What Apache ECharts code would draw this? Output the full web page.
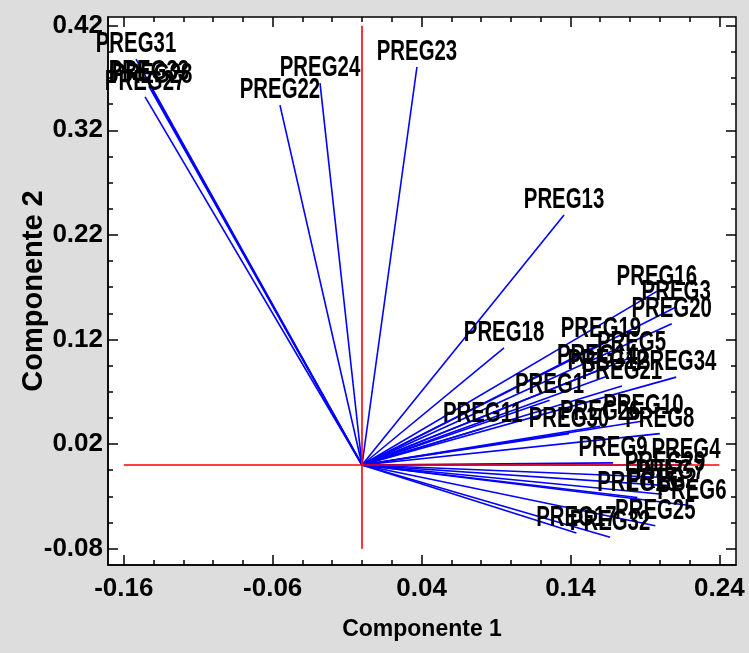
<!DOCTYPE html>
<html>
<head>
<meta charset="utf-8">
<script src="https://cdn.jsdelivr.net/npm/echarts@6/dist/echarts.min.js"></script>
<style>
  html, body { margin: 0; padding: 0; background: #dddddd; }
  #chart { width: 749px; height: 653px; }
</style>
</head>
<body>
<div id="chart"></div>
<script>
// variable names and loadings (component 1, component 2)
const names = [
  'PREG1', 'PREG2', 'PREG3', 'PREG4', 'PREG5', 'PREG6', 'PREG7', 'PREG8', 'PREG9', 'PREG10',
  'PREG11', 'PREG12', 'PREG13', 'PREG14', 'PREG15', 'PREG16', 'PREG17', 'PREG18', 'PREG19', 'PREG20',
  'PREG21', 'PREG22', 'PREG23', 'PREG24', 'PREG25', 'PREG26', 'PREG27', 'PREG28', 'PREG29', 'PREG30',
  'PREG31', 'PREG32', 'PREG33', 'PREG34'
]
const comp1 = [
  0.126, 0.2015, 0.211, 0.2176, 0.181, 0.2216, 0.207, 0.200, 0.1686, 0.189,
  0.081, 0.165, 0.1357, 0.158, 0.185, 0.198, 0.144, 0.0954, 0.1605, 0.208,
  0.1746, -0.0551, 0.0369, -0.0282, 0.197, 0.160, -0.1457, -0.141, 0.2035, 0.139,
  -0.1518, 0.1666, -0.1431, 0.211
]
const comp2 = [
  0.062, -0.028, 0.151, 0.0, 0.103, -0.039, -0.020, 0.030, 0.002, 0.042,
  0.035, 0.085, 0.239, 0.090, -0.031, 0.166, -0.065, 0.112, 0.116, 0.135,
  0.0755, 0.344, 0.3805, 0.365, -0.058, 0.037, 0.352, 0.3585, -0.012, 0.030,
  0.388, -0.069, 0.362, 0.084
]

const xMajor = [-0.16, -0.06, 0.04, 0.14, 0.24]
const xMinor = [-0.14, -0.12, -0.10, -0.08, -0.04, -0.02, 0, 0.02, 0.06, 0.08, 0.10, 0.12, 0.16, 0.18, 0.20, 0.22]
const yMajor = [-0.08, 0.02, 0.12, 0.22, 0.32, 0.42]
const yMinor = [-0.055, -0.03, -0.005, 0.045, 0.07, 0.095, 0.145, 0.17, 0.195, 0.245, 0.27, 0.295, 0.345, 0.37, 0.395]

const X_MIN = -0.1706
const X_MAX = 0.2512
const Y_MIN = -0.0956
const Y_MAX = 0.4283

const sans = "'Liberation Sans', Arial, sans-serif"
const black = '#000000'

const chart = echarts.init(document.getElementById('chart'), null, { renderer: 'canvas' })

const tickAxis = (kind, position, values, len, withLabel) => {
  const axis = {
    type: 'value',
    position,
    min: kind === 'x' ? X_MIN : Y_MIN,
    max: kind === 'x' ? X_MAX : Y_MAX,
    axisLine: { show: false, onZero: false },
    axisTick: {
      show: true,
      inside: true,
      length: len,
      customValues: values,
      lineStyle: { color: black, width: 1.5 },
    },
    axisLabel: { show: false },
    splitLine: { show: false },
  }
  if (withLabel) {
    axis.axisLine = { show: true, onZero: false, lineStyle: { color: black, width: 1.5 } }
    axis.axisLabel = {
      show: true,
      customValues: values,
      formatter: (v) => v.toFixed(2),
      color: black,
      fontFamily: sans,
      fontWeight: 'bold',
      fontSize: 26,
      margin: kind === 'x' ? 11 : 5,
    }
  }
  return axis
}

const xAxes = [
  tickAxis('x', 'bottom', xMajor, 10, true),
  tickAxis('x', 'bottom', xMinor, 5, false),
  tickAxis('x', 'top', xMajor, 10, false),
  tickAxis('x', 'top', xMinor, 5, false),
]
Object.assign(xAxes[0], {
  name: 'Componente 1',
  nameLocation: 'middle',
  nameGap: 53,
  nameMoveOverlap: false,
  nameTextStyle: { color: black, fontFamily: sans, fontWeight: 'bold', fontSize: 23 },
})

const yAxes = [
  tickAxis('y', 'left', yMajor, 10, true),
  tickAxis('y', 'left', yMinor, 5, false),
  tickAxis('y', 'right', yMajor, 10, false),
  tickAxis('y', 'right', yMinor, 5, false),
]
Object.assign(yAxes[0], {
  name: 'Componente 2',
  nameLocation: 'middle',
  nameRotate: 90,
  nameGap: 60,
  nameMoveOverlap: false,
  nameTextStyle: { color: black, fontFamily: sans, fontWeight: 'bold', fontSize: 29 },
})

const vectors = names.map((n, i) => ({ coords: [[0, 0], [comp1[i], comp2[i]]] }))
const points = names.map((n, i) => [comp1[i], comp2[i]])

const option = {
  backgroundColor: '#dddddd',
  animation: false,
  grid: {
    left: 108,
    top: 17,
    right: 13,
    bottom: 88,
    outerBoundsMode: 'none',
    containLabel: false,
    show: true,
    backgroundColor: '#ffffff',
    borderColor: black,
    borderWidth: 1.5,
  },
  xAxis: xAxes,
  yAxis: yAxes,
  series: [
    {
      type: 'lines',
      coordinateSystem: 'cartesian2d',
      xAxisIndex: 0,
      yAxisIndex: 0,
      silent: true,
      lineStyle: { color: '#0000ff', width: 1.6, opacity: 1 },
      data: vectors,
      z: 2,
    },
    {
      type: 'lines',
      coordinateSystem: 'cartesian2d',
      xAxisIndex: 0,
      yAxisIndex: 0,
      silent: true,
      lineStyle: { color: '#ff0000', width: 1.6, opacity: 1 },
      data: [
        { coords: [[xMajor[0], 0], [xMajor[xMajor.length - 1], 0]] },
        { coords: [[0, yMajor[0]], [0, yMajor[yMajor.length - 1]]] },
      ],
      z: 3,
    },
    {
      // labels at the vector tips, squeezed horizontally like the original narrow font
      type: 'custom',
      xAxisIndex: 0,
      yAxisIndex: 0,
      silent: true,
      data: points,
      renderItem: (params, api) => {
        const p = api.coord([api.value(0), api.value(1)])
        return {
          type: 'text',
          x: p[0],
          y: p[1],
          scaleX: 0.68,
          style: {
            text: names[params.dataIndex],
            fill: black,
            font: "bold 30px 'Liberation Sans', Arial, sans-serif",
            align: 'center',
            verticalAlign: 'bottom',
          },
        }
      },
      z: 4,
    },
  ],
}

chart.setOption(option)
</script>
</body>
</html>
